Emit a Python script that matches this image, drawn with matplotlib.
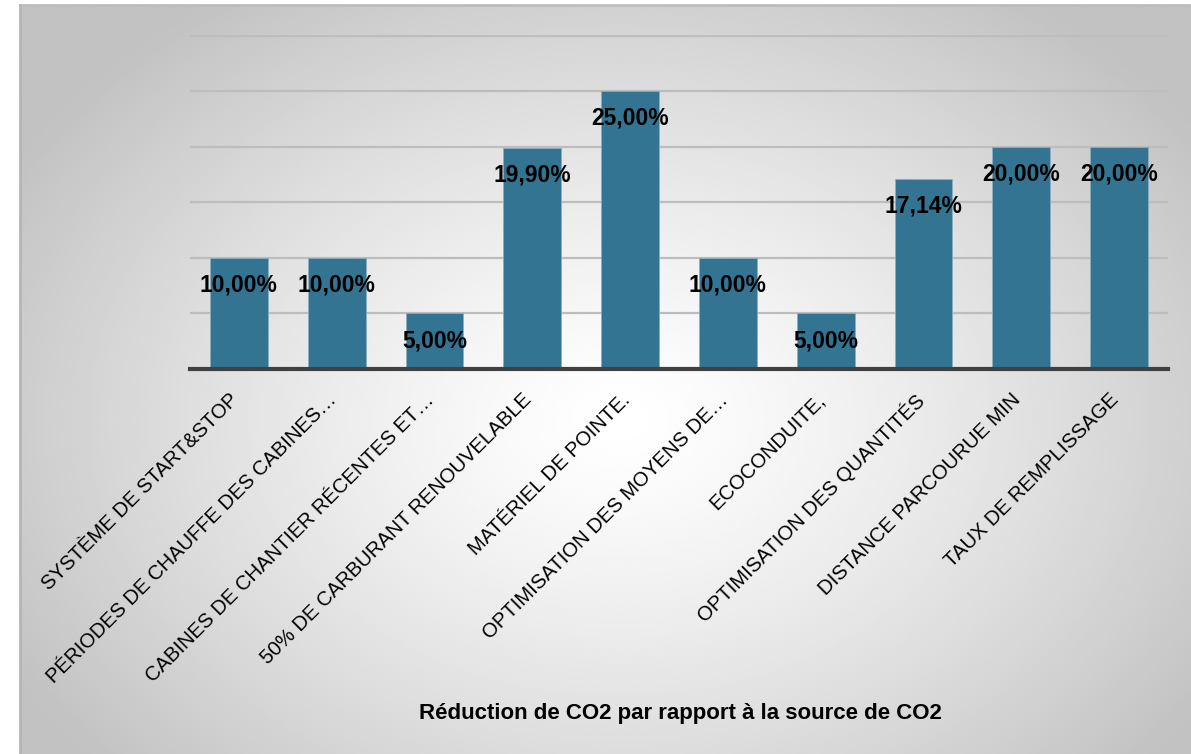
import matplotlib.pyplot as plt
import matplotlib.transforms as mtransforms
import numpy as np

categories = [
    "SYSTÈME DE START&STOP",
    "PÉRIODES DE CHAUFFE DES CABINES…",
    "CABINES DE CHANTIER RÉCENTES ET…",
    "50% DE CARBURANT RENOUVELABLE",
    "MATÉRIEL DE POINTE.",
    "OPTIMISATION DES MOYENS DE…",
    "ECOCONDUITE,",
    "OPTIMISATION DES QUANTITÉS",
    "DISTANCE PARCOURUE MIN",
    "TAUX DE REMPLISSAGE",
]
values = [10.00, 10.00, 5.00, 19.90, 25.00, 10.00, 5.00, 17.14, 20.00, 20.00]
xlabel = "Réduction de CO2 par rapport à la source de CO2"

plt.rcParams["font.family"] = ["Liberation Sans", "DejaVu Sans"]

W, H = 1191, 754
fig = plt.figure(figsize=(W / 100, H / 100), dpi=100)

# radial grey gradient background panel
bg = fig.add_axes([20 / W, 0, 1 - 20 / W, 1 - 5 / H], zorder=0)
gx, gy = np.meshgrid(np.linspace(20, W, 400), np.linspace(5, H, 300))
r = np.hypot((gx - 620) / 700, (gy - 420) / 520)
shade = 1.0 - 0.24 * np.clip(r, 0, 1) ** 1.3
bg.imshow(shade, cmap="gray", vmin=0, vmax=1, aspect="auto",
          extent=[0, 1, 0, 1], interpolation="bilinear")
bg.set_axis_off()
bg.plot([0, 1], [1, 1], color="#bdbdbd", lw=2, transform=bg.transAxes, clip_on=False)
bg.plot([0, 0], [0, 1], color="#b5b5b5", lw=2, transform=bg.transAxes, clip_on=False)

ax = fig.add_axes([190 / W, 1 - 369 / H, 978 / W, (369 - 35) / H], zorder=1)
ax.patch.set_alpha(0)
x = np.arange(len(values))
bars = ax.bar(x, values, width=0.59, color="#337493", edgecolor="#8aaec0",
              linewidth=0.6, zorder=3)
ax.set_xlim(-0.5, len(values) - 0.5)
ax.set_ylim(0, 30.08)
ax.set_yticks(np.arange(0, 31, 5))
ax.yaxis.grid(True, color="#bdbdbd", lw=1.6, zorder=0)
ax.tick_params(axis="y", left=False, labelleft=False)
ax.tick_params(axis="x", length=0, pad=0)
for s in ["top", "right", "left"]:
    ax.spines[s].set_visible(False)
ax.spines["bottom"].set_color("#404040")
ax.spines["bottom"].set_linewidth(3)
ax.spines["bottom"].set_zorder(4)

for b, v in zip(bars, values):
    ax.annotate(f"{v:.2f}".replace(".", ",") + "%",
                (b.get_x() + b.get_width() / 2, v), xytext=(0, -19.5),
                textcoords="offset points", ha="center", va="center",
                fontsize=16.5, fontweight="bold", color="black", zorder=5)

ax.set_xticks(x)
ax.set_xticklabels(categories, rotation=45, ha="right", va="top",
                   rotation_mode="anchor", fontsize=14.6)
offset = mtransforms.ScaledTranslation(-10 / 100, -21 / 100, fig.dpi_scale_trans)
for lbl in ax.get_xticklabels():
    lbl.set_transform(lbl.get_transform() + offset)

fig.text(680 / W, 1 - 713 / H, xlabel, ha="center", va="center",
         fontsize=16, fontweight="bold")

fig.savefig("out.png", dpi=100)
